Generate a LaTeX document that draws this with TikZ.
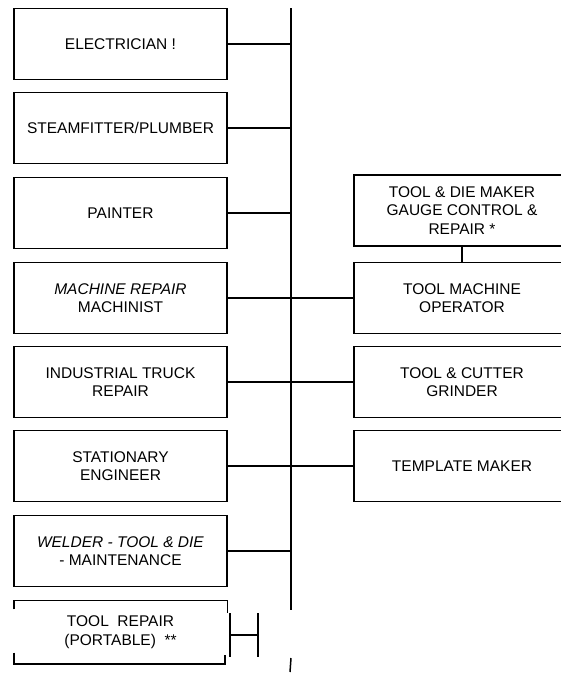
\documentclass[tikz,border=0pt]{standalone}
\usepackage{fontspec}
\setmainfont{Liberation Sans}
\usetikzlibrary{calc}
\newcommand{\fsz}{\fontsize{15.5}{18.5}\selectfont}
\tikzset{
  every picture/.style={x=1pt,y=-1pt},
  boxstyle/.style={minimum width=213pt, minimum height=71pt, draw, line width=1.1pt, align=center, inner sep=0pt, font=\fsz},
  rboxstyle/.style={boxstyle, minimum width=216pt},
  openbox/.style={minimum width=213pt, minimum height=63pt, align=center, inner sep=0pt, font=\fsz},
  conn/.style={line width=1.3pt},
  bus/.style={line width=1.5pt},
}
\begin{document}
\begin{tikzpicture}
\useasboundingbox (0,0) rectangle (561,673);
% bus
\coordinate (bustop) at (291,8);
\coordinate (busbot) at (291,610);
\coordinate (stubtop) at (291,658);
\coordinate (stubbot) at (290,672);
\draw[bus] (bustop) -- (busbot);
\draw[bus] (stubtop) -- (stubbot);
% left boxes
\node[boxstyle] (b1) at (120.5,44) {ELECTRICIAN !};
\node[boxstyle] (b2) at (120.5,128) {STEAMFITTER/PLUMBER};
\node[boxstyle] (b3) at (120.5,213) {PAINTER};
\node[boxstyle] (b4) at (120.5,298) {\textit{MACHINE REPAIR}\\MACHINIST};
\node[boxstyle] (b5) at (120.5,382) {INDUSTRIAL TRUCK\\REPAIR};
\node[boxstyle] (b6) at (120.5,466) {STATIONARY\\ENGINEER};
\node[boxstyle] (b7) at (120.5,551) {\textit{WELDER - TOOL \& DIE}\\- MAINTENANCE};
\node[openbox] (b8) at (120.5,632) {TOOL\ \ REPAIR\\(PORTABLE)\ \ **};
% partial frame of b8
\draw[line width=1.4pt] ([yshift=-9pt]b8.north west) -- (b8.north west) -- (b8.north east) -- ([yshift=-13pt]b8.north east);
\draw[line width=1.6pt] ([yshift=11pt]b8.south west) -- (b8.south west) -- ([xshift=-2pt]b8.south east) -- ([xshift=-2pt,yshift=9pt]b8.south east);
% H mark
\coordinate (h1t) at (230,613);
\coordinate (h1b) at (230,657);
\coordinate (h2t) at (258,613);
\coordinate (h2b) at (258,657);
\draw[conn] (h1t) -- (h1b);
\draw[conn] (h2t) -- (h2b);
\draw[conn] ($(h1t)!0.5!(h1b)$) -- ($(h2t)!0.5!(h2b)$);
% right boxes
\node[rboxstyle] (r1) at (462,210.5) {TOOL \& DIE MAKER\\GAUGE CONTROL \&\\REPAIR *};
\node[rboxstyle] (r2) at (462,298) {TOOL MACHINE\\OPERATOR};
\node[rboxstyle] (r3) at (462,382) {TOOL \& CUTTER\\GRINDER};
\node[rboxstyle] (r4) at (462,466) {TEMPLATE MAKER};
% connectors
\draw[conn] (b1.east) -- (b1.east -| bustop);
\draw[conn] (b2.east) -- (b2.east -| bustop);
\draw[conn] (b3.east) -- (b3.east -| bustop);
\draw[conn] (b4.east) -- (r2.west);
\draw[conn] (b5.east) -- (r3.west);
\draw[conn] (b6.east) -- (r4.west);
\draw[conn] (b7.east) -- (b7.east -| bustop);
\draw[conn] (r1.south) -- (r2.north);
\end{tikzpicture}
\end{document}
